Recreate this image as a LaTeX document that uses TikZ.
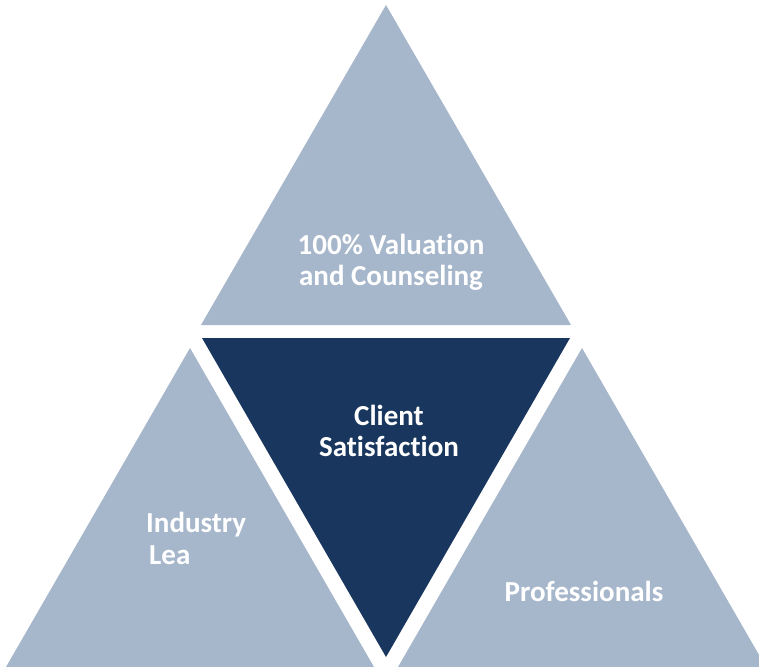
\documentclass[tikz,border=0pt]{standalone}
\usepackage{fontspec}
\setmainfont{Carlito}[Ligatures={NoCommon,NoRare,NoContextual}]
\definecolor{lightblue}{RGB}{166,182,203}
\definecolor{darkblue}{RGB}{25,55,94}
\begin{document}
\begin{tikzpicture}[x=1pt,y=-1pt,
  lighttri/.style={fill=lightblue},
  darktri/.style={fill=darkblue},
  lbl/.style={text=white,font=\bfseries\fontsize{29}{31}\selectfont,align=center,inner sep=0pt}]
\useasboundingbox (0,0) rectangle (759,666);
% top triangle
\fill[lighttri] (386,5) -- (571,325) -- (201,325) -- cycle;
% center inverted triangle
\fill[darktri] (202,338) -- (570,338) -- (386,657) -- cycle;
% left triangle
\fill[lighttri] (190,348) -- (374,667) -- (6,667) -- cycle;
% right triangle
\fill[lighttri] (582,348) -- (766,667) -- (398,667) -- cycle;
% labels
\node[lbl] (top) at (391,262) {100\% Valuation\\and Counseling};
\node[lbl] (center) at (389,431) {Client\\Satisfaction};
\node[lbl,anchor=west] (left1) at (146,525) {Industry};
\node[lbl,anchor=west] (left2) at (149,555) {Lea};
\node[lbl] (right) at (584,591) {Professionals};
\end{tikzpicture}
\end{document}
